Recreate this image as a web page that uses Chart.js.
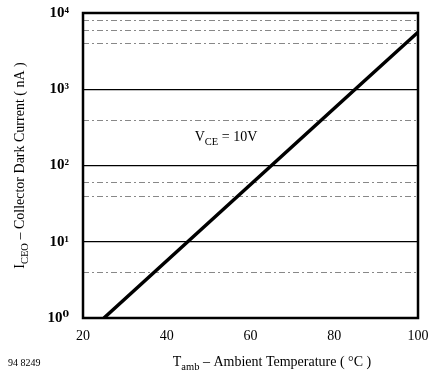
<!DOCTYPE html>
<html>
<head>
<meta charset="utf-8">
<script src="https://cdn.jsdelivr.net/npm/chart.js@4.4.0/dist/chart.umd.min.js"></script>
<style>
  html, body { margin: 0; padding: 0; background: #fff; }
  #wrap { width: 435px; height: 377px; }
</style>
</head>
<body>
<div id="wrap"><canvas id="dark"></canvas></div>
<script>
// values
const temps = [25, 45, 65, 85, 100];
const darkCurrent = [1, 10, 100, 1000, 5600];
const xTicks = [20, 40, 60, 80, 100];
const yTicks = [1, 10, 100, 1000, 10000];
const yTickLabels = ['10\u2070', '10\u00b9', '10\u00b2', '10\u00b3', '10\u2074'];
const minorLines = [4, 40, 60, 400, 4000, 6000, 8000];

const serif = '"Liberation Serif", "DejaVu Serif", serif';

// text with subscript pieces: [[text, isSub], ...]
function drawRich(ctx, parts, x, y, size) {
    let total = 0;
    parts.forEach(p => {
        ctx.font = (p[1] ? size * 0.75 : size) + 'px ' + serif;
        total += ctx.measureText(p[0]).width;
    });
    let cx = x - total / 2;
    parts.forEach(p => {
        ctx.font = (p[1] ? size * 0.75 : size) + 'px ' + serif;
        ctx.fillText(p[0], cx, p[1] ? y + size * 0.25 : y);
        cx += ctx.measureText(p[0]).width;
    });
}

const extras = {
    id: 'extras',
    beforeDatasetsDraw(chart) {
        const ctx = chart.ctx, y = chart.scales.y, a = chart.chartArea;
        ctx.save();
        ctx.strokeStyle = '#888';
        ctx.lineWidth = 1;
        ctx.setLineDash([6, 3, 2, 3]);
        minorLines.forEach(v => {
            const py = Math.round(y.getPixelForValue(v)) + 0.5;
            ctx.beginPath();
            ctx.moveTo(a.left, py);
            ctx.lineTo(a.right, py);
            ctx.stroke();
        });
        ctx.restore();
    },
    afterDraw(chart) {
        const ctx = chart.ctx, a = chart.chartArea;
        ctx.save();
        ctx.strokeStyle = '#000';
        ctx.lineWidth = 2.5;
        ctx.strokeRect(a.left, a.top, a.right - a.left, a.bottom - a.top);
        ctx.fillStyle = '#000';
        ctx.textBaseline = 'alphabetic';
        drawRich(ctx, [['V', false], ['CE', true], [' = 10V', false]], 226, 141, 14);
        drawRich(ctx, [['T', false], ['amb', true], [' \u2013 Ambient Temperature ( \u00b0C )', false]], 272, 366, 14);
        ctx.font = '10px ' + serif;
        ctx.textAlign = 'left';
        ctx.fillText('94 8249', 8, 366);
        ctx.textAlign = 'start';
        ctx.translate(24, (a.top + a.bottom) / 2);
        ctx.rotate(-Math.PI / 2);
        drawRich(ctx, [['I', false], ['CEO', true], [' \u2013 Collector Dark Current ( nA )', false]], 0, 0, 14);
        ctx.restore();
    }
};

new Chart(document.getElementById('dark'), {
    type: 'line',
    data: {
        labels: temps,
        datasets: [{
            data: temps.map((t, i) => ({ x: t, y: darkCurrent[i] })),
            borderColor: '#000',
            borderWidth: 3.5,
            pointRadius: 0,
            tension: 0
        }]
    },
    options: {
        responsive: true,
        maintainAspectRatio: false,
        animation: false,
        layout: { padding: { top: 13, right: 17, left: 0, bottom: 0 } },
        plugins: { legend: { display: false }, tooltip: { enabled: false } },
        scales: {
            x: {
                type: 'linear',
                min: 20,
                max: 100,
                afterBuildTicks: s => { s.ticks = xTicks.map(v => ({ value: v })); },
                afterFit: s => { s.height = 59; s.paddingLeft = 0; s.paddingRight = 0; },
                grid: { display: false },
                border: { display: false },
                ticks: {
                    color: '#000',
                    padding: 2,
                    font: { family: serif, size: 14 }
                }
            },
            y: {
                type: 'logarithmic',
                min: 1,
                max: 10000,
                afterBuildTicks: s => { s.ticks = yTicks.map(v => ({ value: v })); },
                afterFit: s => { s.width = 83; s.paddingTop = 0; s.paddingBottom = 0; },
                grid: { color: '#000', lineWidth: 1.3, drawTicks: false },
                border: { display: false },
                ticks: {
                    color: '#000',
                    padding: 14,
                    font: { family: serif, size: 15, weight: 'bold' },
                    callback: (v) => yTickLabels[yTicks.indexOf(v)]
                }
            }
        }
    },
    plugins: [extras]
});
</script>
</body>
</html>
